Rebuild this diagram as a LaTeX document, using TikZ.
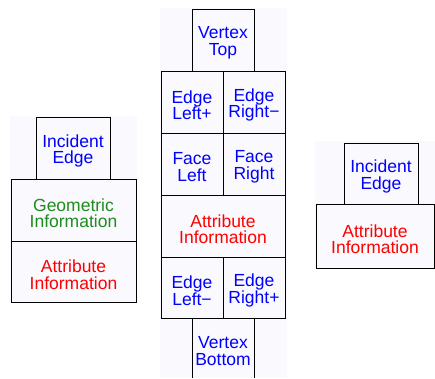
\documentclass[tikz,border=0pt]{standalone}
\usepackage{fontspec}
\newfontfamily\lblfont{Liberation Sans}
\definecolor{tint}{RGB}{250,249,253}
\definecolor{lblblue}{RGB}{0,0,255}
\definecolor{lblgreen}{RGB}{30,140,30}
\definecolor{lblred}{RGB}{255,0,0}
\tikzset{
  cell/.style={draw, line width=1pt, fill=tint, inner sep=0pt, outer sep=0pt},
  txt/.style={inner sep=0pt, outer sep=0pt, align=center,
    font={\lblfont\fontsize{17.5}{16.5}\selectfont}},
  edge/.style={line width=1pt}
}
% text sits a little below the geometric centre of its cell
\newcommand{\celltext}[4]{\node[txt, text=#3] (#1T) at ([yshift=-3pt]#1.center) {#4};}
\begin{document}
\begin{tikzpicture}[x=1pt,y=-1pt]
\useasboundingbox (0,0) rectangle (435,378);
% faint backdrop behind each record
\fill[tint] (10,116) rectangle (137,303);
\fill[tint] (160,8) rectangle (287,378);
\fill[tint] (315,141) rectangle (435,269);

% face record
\node[cell, minimum width=74pt, minimum height=62pt] (fInc) at (73,148) {};
\node[cell, minimum width=125pt, minimum height=62pt] (fGeo) at (73.5,210) {};
\node[cell, minimum width=125pt, minimum height=61pt] (fAttr) at (73.5,271.5) {};
\celltext{fInc}{}{lblblue}{Incident\\Edge}
\celltext{fGeo}{}{lblgreen}{Geometric\\Information}
\celltext{fAttr}{}{lblred}{Attribute\\Information}

% edge record
\node[cell, minimum width=62pt, minimum height=62pt] (vTop) at (223,40) {};
\node[cell, minimum width=62pt, minimum height=62pt] (eLp) at (192,102) {};
\node[cell, minimum width=62pt, minimum height=62pt] (eRm) at (254,102) {};
\node[cell, minimum width=62pt, minimum height=62pt] (fL) at (192,164) {};
\node[cell, minimum width=62pt, minimum height=62pt] (fR) at (254,164) {};
\node[cell, minimum width=124pt, minimum height=62pt] (eAttr) at (223,226) {};
\node[cell, minimum width=62pt, minimum height=61pt] (eLm) at (192,287.5) {};
\node[cell, minimum width=62pt, minimum height=61pt] (eRp) at (254,287.5) {};
\coordinate (vbL) at (192,378);
\coordinate (vbR) at (254,378);
\coordinate (vBot) at (223,348);
\draw[edge] (eLm.south) -- (vbL);
\draw[edge] (eRp.south) -- (vbR);
\celltext{vTop}{}{lblblue}{Vertex\\Top}
\celltext{eLp}{}{lblblue}{Edge\\Left+}
\celltext{eRm}{}{lblblue}{Edge\\Right−}
\celltext{fL}{}{lblblue}{Face\\Left}
\celltext{fR}{}{lblblue}{Face\\Right}
\celltext{eAttr}{}{lblred}{Attribute\\Information}
\celltext{eLm}{}{lblblue}{Edge\\Left−}
\celltext{eRp}{}{lblblue}{Edge\\Right+}
\celltext{vBot}{}{lblblue}{Vertex\\Bottom}

% vertex record
\node[cell, minimum width=74pt, minimum height=61pt] (vInc) at (381,173.5) {};
\node[cell, minimum width=118pt, minimum height=64pt] (vAttr) at (375,236) {};
\celltext{vInc}{}{lblblue}{Incident\\Edge}
\celltext{vAttr}{}{lblred}{Attribute\\Information}
\end{tikzpicture}
\end{document}
